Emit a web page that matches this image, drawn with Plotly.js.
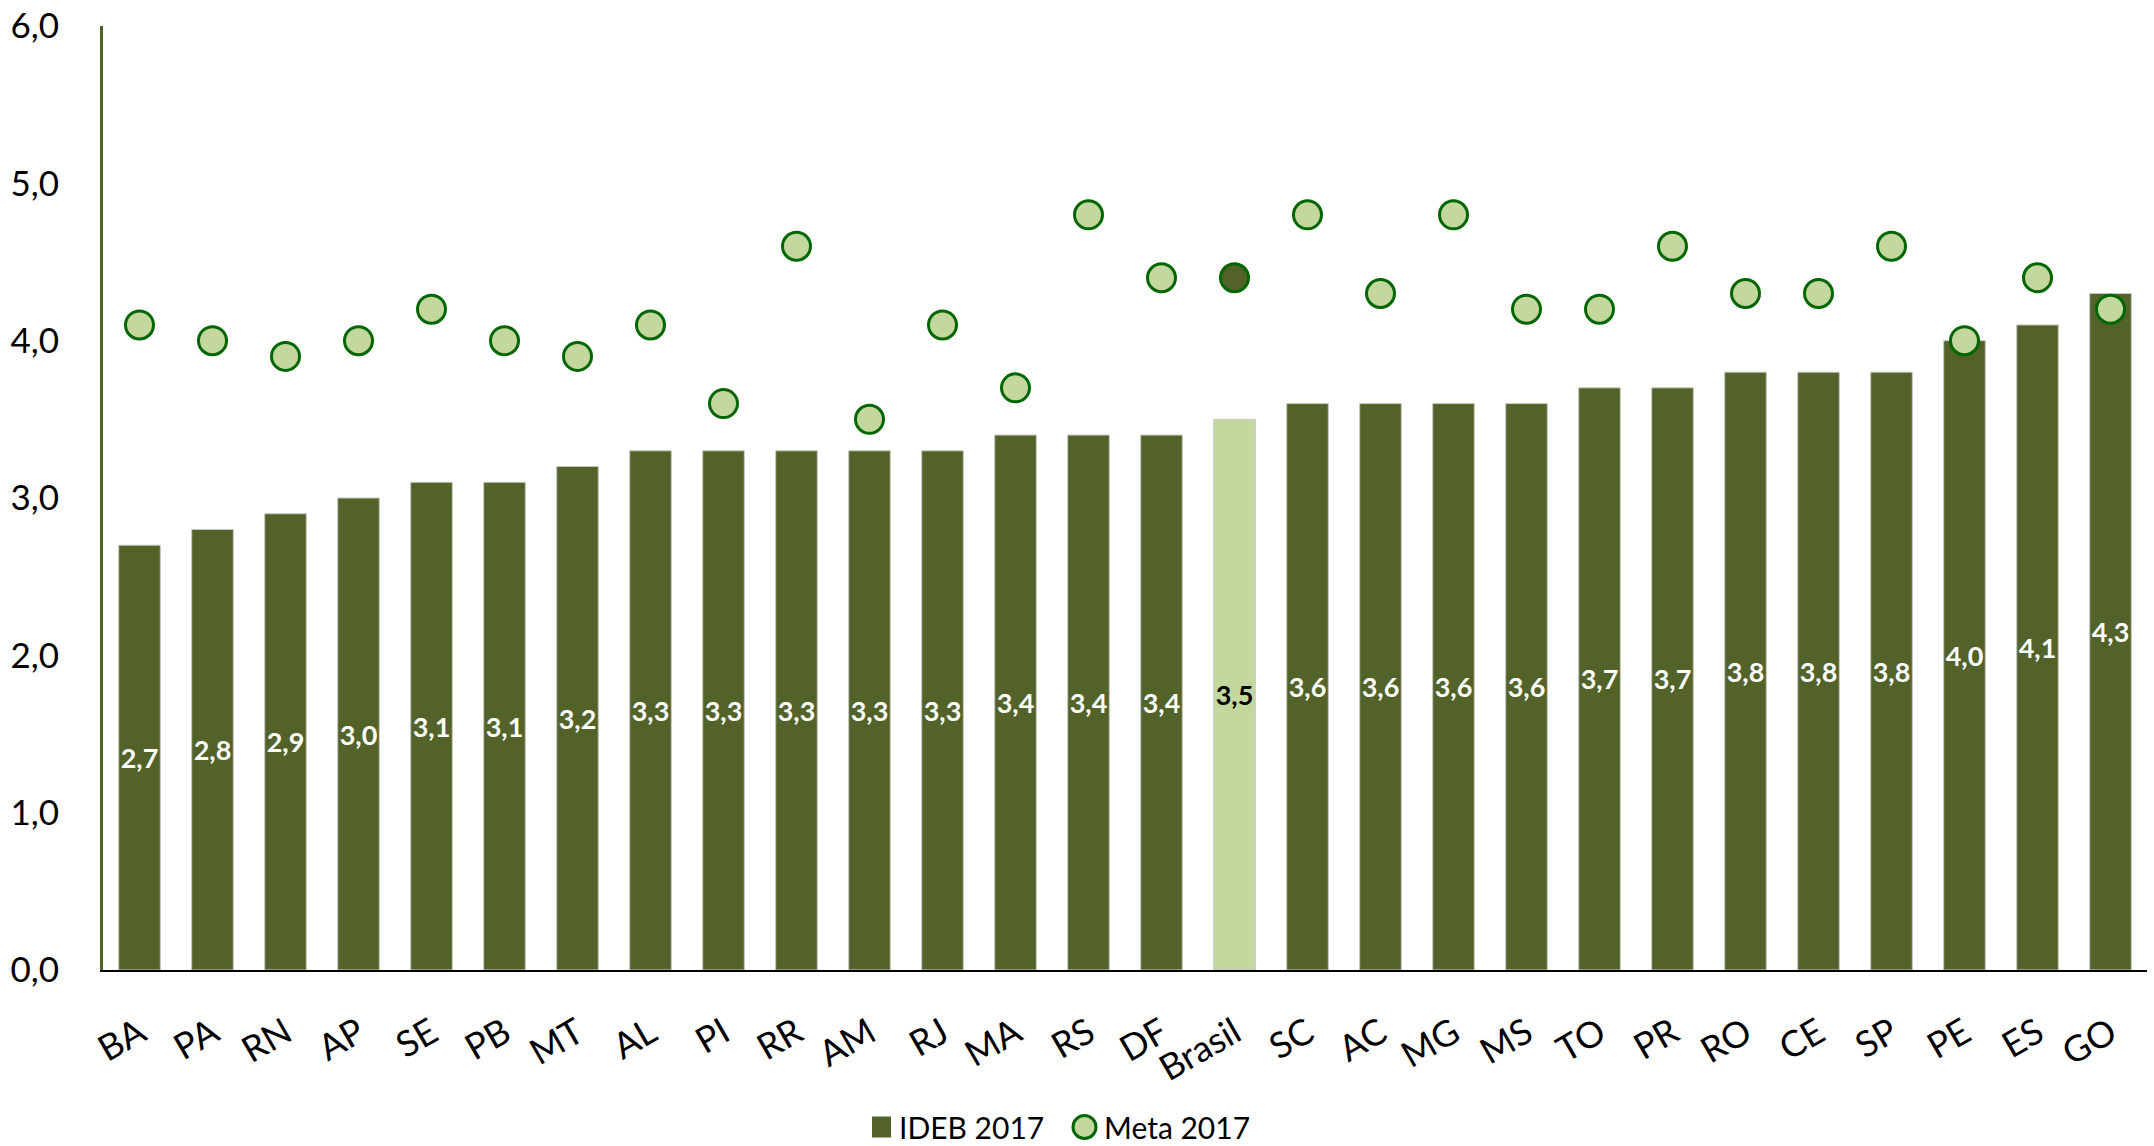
<!DOCTYPE html>
<html>
<head>
<meta charset="utf-8">
<script src="https://cdn.plot.ly/plotly-3.0.1.min.js"></script>
<style>html,body{margin:0;padding:0;background:#fff;}#chart{width:2154px;height:1146px;}</style>
</head>
<body>
<div id="chart"></div>
<script>
const categories = ['BA','PA','RN','AP','SE','PB','MT','AL','PI','RR','AM','RJ','MA','RS','DF','Brasil','SC','AC','MG','MS','TO','PR','RO','CE','SP','PE','ES','GO'];
const ideb2017 = [2.7,2.8,2.9,3.0,3.1,3.1,3.2,3.3,3.3,3.3,3.3,3.3,3.4,3.4,3.4,3.5,3.6,3.6,3.6,3.6,3.7,3.7,3.8,3.8,3.8,4.0,4.1,4.3];
const meta2017 = [4.1,4.0,3.9,4.0,4.2,4.0,3.9,4.1,3.6,4.6,3.5,4.1,3.7,4.8,4.4,4.4,4.8,4.3,4.8,4.2,4.2,4.6,4.3,4.3,4.6,4.0,4.4,4.2];
const yTicks = [0,1,2,3,4,5,6];
const seriesNames = ['IDEB 2017', 'Meta 2017'];

const DARK = '#526229';
const LIGHT = '#c4d79f';
const RING = '#006600';
const FONT = 'Lato, "Open Sans", sans-serif';

const W = 2154, H = 1146;
const M = {l: 103, r: 7, t: 26, b: 176};
const PW = W - M.l - M.r, PH = H - M.t - M.b;
const px = x => (x - M.l) / PW;
const py = y => (H - M.b - y) / PH;

const isBr = categories.map(c => c === 'Brasil');

const bars = {
  type: 'bar',
  name: seriesNames[0],
  x: categories,
  y: ideb2017,
  marker: {color: isBr.map(b => b ? LIGHT : DARK), line: {color: '#c8c8c0', width: 1}},
  texttemplate: '%{y:.1f}',
  textposition: 'inside',
  insidetextanchor: 'middle',
  constraintext: 'none',
  textangle: 0,
  textfont: {family: FONT, size: 27, weight: 'bold', color: isBr.map(b => b ? '#000000' : '#ffffff')},
  hoverinfo: 'x+y',
  showlegend: false
};

const markers = {
  type: 'scatter',
  mode: 'markers',
  name: seriesNames[1],
  x: categories,
  y: meta2017,
  marker: {size: 28, color: isBr.map(b => b ? DARK : LIGHT), line: {color: RING, width: 3}},
  hoverinfo: 'x+y',
  showlegend: false
};

// custom legend (icons + labels)
const legY = 1127;
const shapes = [
  {type: 'rect', xref: 'paper', yref: 'paper', x0: px(872), x1: px(891), y0: py(legY - 10.5), y1: py(legY + 10.5),
   fillcolor: DARK, line: {width: 0}},
  {type: 'circle', xref: 'paper', yref: 'paper', x0: px(1073), x1: px(1096), y0: py(legY - 11.5), y1: py(legY + 11.5),
   fillcolor: LIGHT, line: {color: RING, width: 3}}
];
const annotations = [
  {xref: 'paper', yref: 'paper', x: px(898), y: py(legY), xanchor: 'left', yanchor: 'middle', showarrow: false,
   text: seriesNames[0], font: {family: FONT, size: 30, color: '#000'}, borderpad: 0},
  {xref: 'paper', yref: 'paper', x: px(1103), y: py(legY), xanchor: 'left', yanchor: 'middle', showarrow: false,
   text: seriesNames[1], font: {family: FONT, size: 30, color: '#000'}, borderpad: 0}
];

const layout = {
  width: W, height: H,
  paper_bgcolor: '#ffffff', plot_bgcolor: '#ffffff',
  margin: M,
  separators: ',.',
  bargap: 0.43,
  showlegend: false,
  uniformtext: {mode: 'show', minsize: 27},
  font: {family: FONT, color: '#000'},
  shapes: shapes,
  annotations: annotations,
  xaxis: {
    type: 'category', range: [-0.5, categories.length - 0.5], tickangle: -30, showgrid: false, zeroline: false,
    showline: true, linecolor: '#000', linewidth: 2,
    tickfont: {family: FONT, size: 36, color: '#000'}, ticks: '', ticklabelstandoff: 26, automargin: false
  },
  yaxis: {
    range: [0, 6], tickvals: yTicks, tickformat: '.1f',
    showgrid: false, zeroline: false, showline: true, linecolor: '#4f6228', linewidth: 3,
    tickfont: {family: FONT, size: 35, color: '#000'}, ticks: '', ticklabelstandoff: 34, automargin: false
  }
};

Plotly.newPlot('chart', [bars, markers], layout, {displayModeBar: false, staticPlot: true});
</script>
</body>
</html>
